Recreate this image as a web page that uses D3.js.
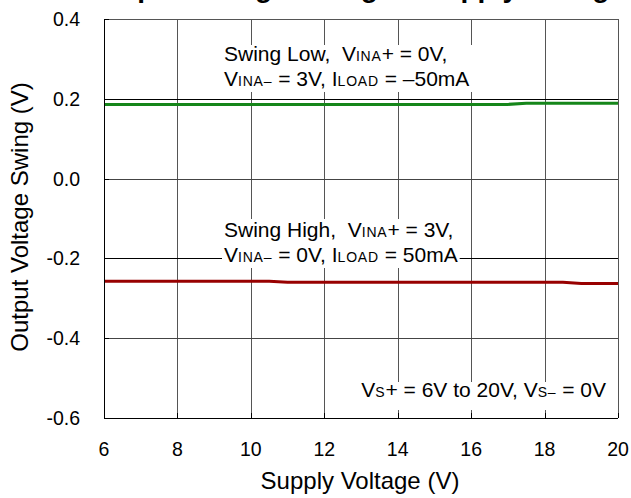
<!DOCTYPE html>
<html><head><meta charset="utf-8">
<script src="https://cdn.jsdelivr.net/npm/d3@7"></script>
<style>
html,body{margin:0;padding:0;background:#fff;}
svg{display:block;font-family:"Liberation Sans",Arial,sans-serif;}
</style></head>
<body>
<svg id="c" width="631" height="498"></svg>
<script>
// ---- data ----
const xTicks = [6, 8, 10, 12, 14, 16, 18, 20];
const yTicks = [0.4, 0.2, 0.0, -0.2, -0.4, -0.6];
const yTickLabels = ["0.4", "0.2", "0.0", "-0.2", "-0.4", "-0.6"];
const swingLowX = [6, 8, 10, 12, 14, 16, 17, 17.5, 18, 20];
const swingLowY = [0.186, 0.186, 0.186, 0.186, 0.186, 0.186, 0.186, 0.189, 0.189, 0.189];
const swingHighX = [6, 8, 10, 10.5, 11, 12, 14, 16, 18, 18.5, 19, 20];
const swingHighY = [-0.257, -0.257, -0.257, -0.257, -0.260, -0.260, -0.260, -0.260, -0.260, -0.260, -0.263, -0.263];
const titleText = "Output Voltage Swing vs Supply Voltage";
const xTitle = "Supply Voltage (V)";
const yTitle = "Output Voltage Swing (V)";

// ---- layout ----
const L = 104, R = 618, T = 19, B = 418;
const svg = d3.select("#c");
const x = d3.scaleLinear().domain([6, 20]).range([L, R]);
const y = d3.scaleLinear().domain([-0.6, 0.4]).range([B, T]);
const px = v => Math.round(v) + 0.5;

// title (cut off at top, as in the reference)
svg.append("text").attr("x", 357).attr("y", -3).attr("text-anchor", "middle")
  .attr("font-size", 28).attr("font-weight", "bold").attr("fill", "#000").text(titleText);

// grid
const g = svg.append("g");
g.selectAll("line.vx").data(xTicks.slice(1, -1)).join("line")
  .attr("x1", d => px(x(d))).attr("x2", d => px(x(d))).attr("y1", T).attr("y2", B)
  .attr("stroke", "#555").attr("stroke-width", 1);
g.selectAll("line.hy").data(yTicks.slice(1, -1)).join("line")
  .attr("x1", L).attr("x2", R).attr("y1", d => px(y(d))).attr("y2", d => px(y(d)))
  .attr("stroke", d => Math.abs(Math.abs(d) - 0.2) < 1e-9 ? "#000" : "#444").attr("stroke-width", 1);

// frame
svg.append("line").attr("x1", L).attr("x2", R).attr("y1", px(T)).attr("y2", px(T)).attr("stroke", "#555");
svg.append("line").attr("x1", px(R)).attr("x2", px(R)).attr("y1", T).attr("y2", B).attr("stroke", "#555");

// series
const line = d3.line().x(d => x(d[0])).y(d => y(d[1]));
svg.append("path").datum(swingLowX.map((v, i) => [v, swingLowY[i]]))
  .attr("d", line).attr("fill", "none").attr("stroke", "#15861a").attr("stroke-width", 3);
svg.append("path").datum(swingHighX.map((v, i) => [v, swingHighY[i]]))
  .attr("d", line).attr("fill", "none").attr("stroke", "#980000").attr("stroke-width", 3);

// annotations with white background
// part: [text, kind]  kind 0 = normal, 1 = small subscript letters
function label(lines, xs, anchor, ys, pad) {
  const grp = svg.append("g");
  const rect = grp.append("rect").attr("fill", "#fff");
  const t = grp.append("text").attr("font-size", 21).attr("fill", "#000")
    .attr("text-anchor", anchor).style("white-space", "pre");
  lines.forEach((parts, i) => {
    const ln = t.append("tspan").attr("x", xs).attr("y", ys[i]);
    parts.forEach(p => {
      const s = ln.append("tspan").text(p[0]);
      if (p[1] === 1) s.attr("font-size", 14).attr("letter-spacing", 0.8);
    });
  });
  const bb = t.node().getBBox();
  rect.attr("x", bb.x - pad[0]).attr("y", bb.y - pad[1])
      .attr("width", bb.width + pad[0] + pad[2]).attr("height", bb.height + pad[1] + pad[3]);
}
label([
  [["Swing Low,  V"], ["INA", 1], ["+"], [" = 0V,"]],
  [["V"], ["INA–", 1], [" = 3V, I"], ["LOAD", 1], [" = –50mA"]]
], 224, "start", [61, 86], [2, -3, 6, 2]);
label([
  [["Swing High,  V"], ["INA", 1], ["+"], [" = 3V,"]],
  [["V"], ["INA–", 1], [" = 0V, I"], ["LOAD", 1], [" = 50mA"]]
], 224, "start", [237, 262], [2, -1, 2, 2]);
label([
  [["V"], ["S", 1], ["+"], [" = 6V to 20V, V"], ["S–", 1], [" = 0V"]]
], 606, "end", [397], [4, -4, 6, 9]);

// axes (black left & bottom)
svg.append("line").attr("x1", px(L)).attr("x2", px(L)).attr("y1", T).attr("y2", B + 0.5).attr("stroke", "#000");
svg.append("line").attr("x1", L).attr("x2", R).attr("y1", px(B)).attr("y2", px(B)).attr("stroke", "#000");
// inward ticks
svg.selectAll("line.xt").data(xTicks).join("line")
  .attr("x1", d => px(x(d))).attr("x2", d => px(x(d))).attr("y1", B).attr("y2", B - 5).attr("stroke", "#000");
svg.selectAll("line.yt").data(yTicks).join("line")
  .attr("x1", L).attr("x2", L + 5).attr("y1", d => px(y(d))).attr("y2", d => px(y(d))).attr("stroke", "#000");

// tick labels
svg.selectAll("text.xl").data(xTicks).join("text")
  .attr("x", d => x(d)).attr("y", 456).attr("text-anchor", "middle").attr("font-size", 19.5)
  .attr("fill", "#000").text(d => d);
svg.selectAll("text.yl").data(yTicks).join("text")
  .attr("x", 80).attr("y", d => y(d) + 7).attr("text-anchor", "end").attr("font-size", 19.5)
  .attr("fill", "#000").text((d, i) => yTickLabels[i]);

// axis titles
svg.append("text").attr("x", 360).attr("y", 489).attr("text-anchor", "middle")
  .attr("font-size", 24).attr("fill", "#000").text(xTitle);
svg.append("text").attr("transform", "translate(28,217) rotate(-90)").attr("text-anchor", "middle")
  .attr("font-size", 24).attr("fill", "#000").text(yTitle);
</script>
</body></html>
